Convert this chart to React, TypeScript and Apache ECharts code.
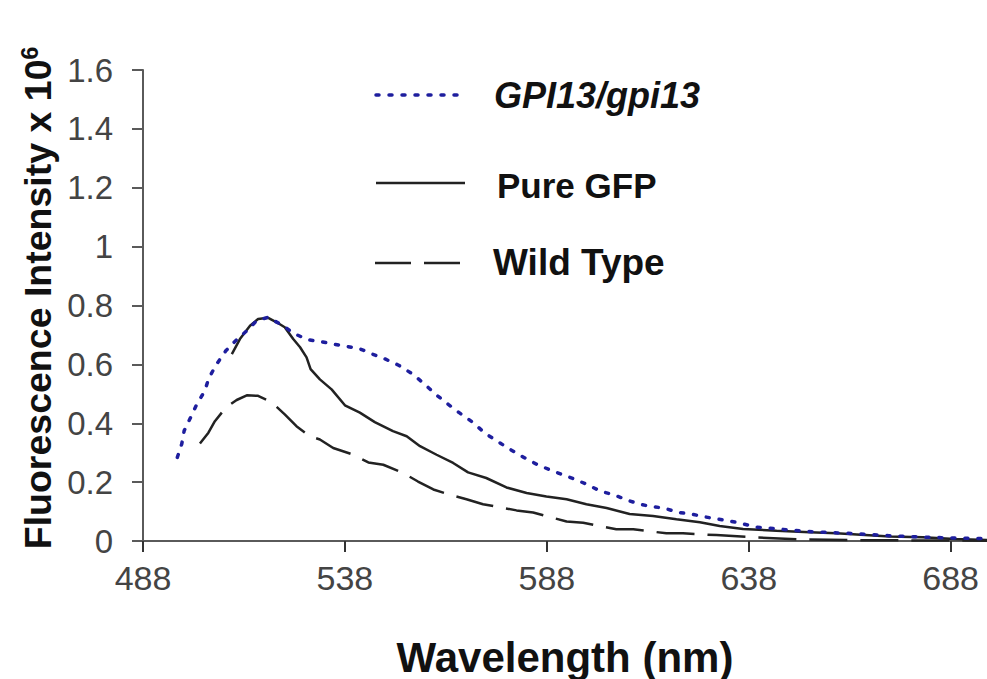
import React, { useEffect, useRef } from "react";
import * as echarts from "echarts";

const xTicks = [488, 538, 588, 638, 688];

const gpiWl = [496.5, 497.6, 498.2, 499.8, 501.3, 503.3, 504.3, 506.1, 508.5, 511.2, 513.7, 516.1, 519, 522.7, 525.4, 528.7, 532.2, 535.1, 538, 541.5, 544.8, 547.7, 551.3, 554.8, 557.8, 560.5, 563.6, 566.3, 569.6, 572.8, 575.5, 578.7, 582.3, 585.3, 588.7, 592, 594.9, 597.8, 601.5, 604.6, 607.7, 611, 613.9, 617, 620.5, 623.6, 626.7, 630, 633.3, 636.4, 639.9, 643, 646.1, 652.7, 662.6, 672.7, 682, 691.9, 697];
const gpiVal = [0.284, 0.33, 0.375, 0.42, 0.464, 0.51, 0.553, 0.598, 0.646, 0.684, 0.714, 0.748, 0.76, 0.731, 0.705, 0.684, 0.677, 0.669, 0.662, 0.654, 0.635, 0.62, 0.597, 0.567, 0.532, 0.498, 0.464, 0.436, 0.404, 0.365, 0.341, 0.313, 0.284, 0.262, 0.242, 0.225, 0.21, 0.193, 0.168, 0.157, 0.14, 0.125, 0.117, 0.112, 0.097, 0.092, 0.083, 0.075, 0.068, 0.059, 0.047, 0.044, 0.04, 0.032, 0.026, 0.018, 0.013, 0.009, 0.008];

const gfpWl = [510, 512, 514.5, 516.5, 519, 521.1, 523.1, 525.2, 526.9, 528.5, 529.5, 531.8, 534.7, 538, 541.7, 545.4, 549.9, 553.3, 556.6, 560.7, 564.8, 568.5, 573, 578, 583, 587.9, 592.9, 597.8, 602.8, 608.5, 614.3, 620.1, 625.9, 630.8, 636.6, 644.9, 653.1, 659.7, 672.9, 681.1, 689, 697];
const gfpVal = [0.635, 0.686, 0.731, 0.754, 0.758, 0.743, 0.726, 0.686, 0.658, 0.624, 0.584, 0.549, 0.515, 0.461, 0.436, 0.404, 0.373, 0.356, 0.322, 0.293, 0.265, 0.233, 0.214, 0.182, 0.163, 0.151, 0.142, 0.125, 0.112, 0.092, 0.085, 0.074, 0.064, 0.051, 0.041, 0.035, 0.03, 0.026, 0.015, 0.013, 0.007, 0.003];

const wtWl = [502.1, 504.2, 505.8, 508.5, 511.2, 513.7, 516.5, 519.8, 523.1, 526, 529.3, 531.8, 535.1, 540.1, 543.8, 547.5, 552.4, 556.1, 559.9, 564, 568.1, 572.2, 580.5, 584.6, 592.9, 597, 605.2, 609.4, 617.6, 621.7, 630, 640, 650, 665, 680, 697];
const wtVal = [0.331, 0.368, 0.407, 0.453, 0.479, 0.495, 0.493, 0.472, 0.43, 0.39, 0.356, 0.345, 0.316, 0.293, 0.267, 0.259, 0.231, 0.202, 0.175, 0.157, 0.142, 0.125, 0.104, 0.097, 0.066, 0.062, 0.04, 0.04, 0.026, 0.026, 0.02, 0.012, 0.006, 0.003, 0.002, 0.001];

const seriesNames = ["GPI13/gpi13", "Pure GFP", "Wild Type"];

const zip = (a: number[], b: number[]) => a.map((v, i) => [v, b[i]]);

const BLUE = "#1e1e9e";
const DARK = "#222222";
const AXIS = "#5a5a5a";
const FONT = "'Liberation Sans', Arial, sans-serif";

export default function App() {
  const ref = useRef<HTMLDivElement>(null);
  useEffect(() => {
    if (!ref.current) return;
    const chart = echarts.init(ref.current, null, { renderer: "svg" });
    chart.setOption({
      animation: false,
      backgroundColor: "#ffffff",
      grid: { left: 143, right: 0, top: 70, bottom: 138, containLabel: false },
      xAxis: {
        type: "value",
        min: 488,
        max: 697,
        splitLine: { show: false },
        axisLine: { show: true, onZero: false, lineStyle: { color: AXIS, width: 2 } },
        axisTick: { show: true, length: 11, customValues: xTicks, lineStyle: { color: "#333", width: 2 } },
        axisLabel: { customValues: xTicks, color: "#444", fontSize: 34, fontFamily: FONT, margin: 20 },
      },
      yAxis: {
        type: "value",
        min: 0,
        max: 1.6,
        interval: 0.2,
        splitLine: { show: false },
        axisLine: { show: true, lineStyle: { color: AXIS, width: 2 } },
        axisTick: { show: true, length: 11, lineStyle: { color: AXIS, width: 2 } },
        axisLabel: { color: "#444", fontSize: 33, fontFamily: FONT, margin: 30 },
      },
      graphic: [
        {
          type: "text",
          x: 38,
          y: 298,
          rotation: Math.PI / 2,
          style: {
            text: "Fluorescence Intensity x 10{s|6}",
            font: `bold 37.5px ${FONT}`,
            fill: "#111",
            align: "center",
            verticalAlign: "middle",
            rich: { s: { font: `bold 23px ${FONT}`, fill: "#111", verticalAlign: "top", padding: [0, 0, 16, 0] } },
          } as any,
        },
        {
          type: "text",
          x: 565,
          y: 657,
          style: {
            text: "Wavelength (nm)",
            font: `bold 42px ${FONT}`,
            fill: "#111",
            align: "center",
            verticalAlign: "middle",
          },
        },
        { type: "line", shape: { x1: 376, y1: 95, x2: 457, y2: 95 }, style: { stroke: BLUE, lineWidth: 3.5, lineDash: [3, 10], lineCap: "round" } },
        { type: "text", x: 494, y: 95, style: { text: seriesNames[0], font: `italic bold 36px ${FONT}`, fill: "#111", verticalAlign: "middle" } },
        { type: "line", shape: { x1: 376, y1: 183, x2: 465, y2: 183 }, style: { stroke: DARK, lineWidth: 2.5 } },
        { type: "text", x: 497, y: 185, style: { text: seriesNames[1], font: `bold 35px ${FONT}`, fill: "#111", verticalAlign: "middle" } },
        { type: "line", shape: { x1: 375, y1: 263, x2: 460, y2: 263 }, style: { stroke: DARK, lineWidth: 2.5, lineDash: [36, 13] } },
        { type: "text", x: 493, y: 262, style: { text: seriesNames[2], font: `bold 37px ${FONT}`, fill: "#111", verticalAlign: "middle" } },
      ],
      series: [
        {
          name: seriesNames[0],
          type: "line",
          data: zip(gpiWl, gpiVal),
          showSymbol: false,
          lineStyle: { color: BLUE, width: 3.5, type: [3, 10], cap: "round" },
          z: 3,
        },
        {
          name: seriesNames[1],
          type: "line",
          data: zip(gfpWl, gfpVal),
          showSymbol: false,
          lineStyle: { color: DARK, width: 2.5, type: "solid" },
          z: 2,
        },
        {
          name: seriesNames[2],
          type: "line",
          data: zip(wtWl, wtVal),
          showSymbol: false,
          lineStyle: { color: DARK, width: 2.5, type: [38, 13] },
          z: 2,
        },
      ],
    });
    return () => chart.dispose();
  }, []);
  return <div ref={ref} style={{ width: 987, height: 679, position: "absolute", left: 0, top: 0 }} />;
}
